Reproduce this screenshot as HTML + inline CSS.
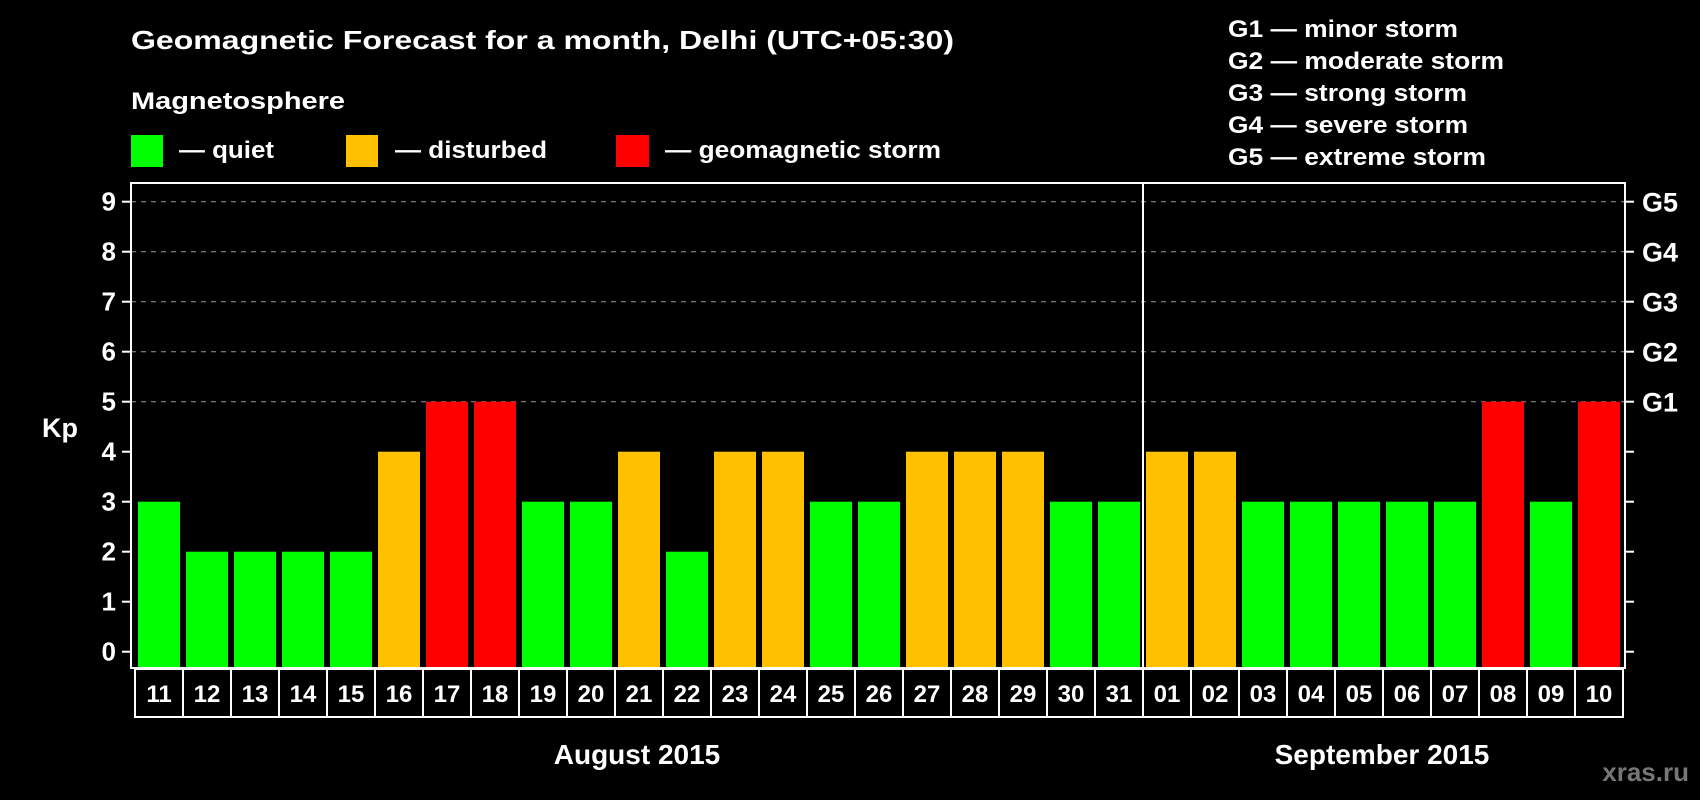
<!DOCTYPE html>
<html><head><meta charset="utf-8"><style>
html,body{margin:0;padding:0;background:#000;}
svg{display:block;font-family:"Liberation Sans",Arial,sans-serif;font-weight:bold;}
</style></head><body>
<svg id="chart" width="1700" height="800" viewBox="0 0 1700 800" xmlns="http://www.w3.org/2000/svg">
<rect width="1700" height="800" fill="#000"/>
<text x="131" y="49" fill="#fff" font-size="26" textLength="823" lengthAdjust="spacingAndGlyphs">Geomagnetic Forecast for a month, Delhi (UTC+05:30)</text>
<text x="131" y="109" fill="#fff" font-size="24" textLength="214" lengthAdjust="spacingAndGlyphs">Magnetosphere</text>
<g><rect x="131" y="135" width="32" height="32" fill="#00ff00"/><text x="179" y="158" fill="#fff" font-size="24" textLength="95" lengthAdjust="spacingAndGlyphs">— quiet</text></g>
<g><rect x="346" y="135" width="32" height="32" fill="#ffc000"/><text x="395" y="158" fill="#fff" font-size="24" textLength="152" lengthAdjust="spacingAndGlyphs">— disturbed</text></g>
<g><rect x="616" y="135" width="33" height="32" fill="#ff0000"/><text x="665" y="158" fill="#fff" font-size="24" textLength="276" lengthAdjust="spacingAndGlyphs">— geomagnetic storm</text></g>
<g fill="#fff" font-size="24">
<text x="1228" y="37" textLength="230" lengthAdjust="spacingAndGlyphs">G1 — minor storm</text>
<text x="1228" y="69" textLength="276" lengthAdjust="spacingAndGlyphs">G2 — moderate storm</text>
<text x="1228" y="101" textLength="239" lengthAdjust="spacingAndGlyphs">G3 — strong storm</text>
<text x="1228" y="133" textLength="240" lengthAdjust="spacingAndGlyphs">G4 — severe storm</text>
<text x="1228" y="165" textLength="258" lengthAdjust="spacingAndGlyphs">G5 — extreme storm</text>
</g>
<text x="42" y="437" fill="#fff" font-size="27">Kp</text>
<g id="grid"></g><g id="bars"></g><g id="axes"></g>
<text x="637" y="764" fill="#fff" font-size="28" text-anchor="middle">August 2015</text>
<text x="1382" y="764" fill="#fff" font-size="28" text-anchor="middle">September 2015</text>
<text x="1689" y="781" fill="#777" font-size="26" text-anchor="end">xras.ru</text>
</svg>
<script>
const days = ["11","12","13","14","15","16","17","18","19","20","21","22","23","24","25","26","27","28","29","30","31","01","02","03","04","05","06","07","08","09","10"];
const kpValues = [3,2,2,2,2,4,5,5,3,3,4,2,4,4,3,3,4,4,4,3,3,4,4,3,3,3,3,3,5,3,5];
const yTicks = [0,1,2,3,4,5,6,7,8,9];
const gLabels = ["G1","G2","G3","G4","G5"];
const gLevels = [5,6,7,8,9];
const monthBreakIndex = 21;

const NS = "http://www.w3.org/2000/svg";
const L = 131, R = 1625, T = 183, B = 668;
const y = v => 651.7 - 50 * v;
const cellX = i => 135 + 48 * i;
function mk(tag, attrs, parent) { const e = document.createElementNS(NS, tag); for (const k in attrs) e.setAttribute(k, attrs[k]); parent.appendChild(e); return e; }
const grid = document.getElementById("grid"), bars = document.getElementById("bars"), axes = document.getElementById("axes");
function color(v) { return v >= 5 ? "#ff0000" : v >= 4 ? "#ffc000" : "#00ff00"; }

gLevels.forEach((lv, i) => {
  const g = mk("line", {x1: L, x2: R, y1: y(lv), y2: y(lv), stroke: "#999", "stroke-width": 1, "stroke-dasharray": "5,5"}, grid);
  
  
  const t = mk("text", {x: 1642, y: y(lv) + 10, fill: "#fff", "font-size": 27}, axes);
  t.textContent = gLabels[i];
  
  
});

kpValues.forEach((v, i) => {
  const r = mk("rect", {x: cellX(i) + 3, y: y(v), width: 42, height: B - 1 - y(v), fill: color(v)}, bars);
  
  
  const c = mk("rect", {x: cellX(i), y: B + 1, width: 48, height: 48, fill: "none", stroke: "#fff", "stroke-width": 2}, axes);
  
  
  const t = mk("text", {x: cellX(i) + 24, y: B + 34, fill: "#fff", "font-size": 24, "text-anchor": "middle"}, axes);
  t.textContent = days[i];
  
  
});

yTicks.forEach(v => {
  const a = mk("line", {x1: 122, x2: L, y1: y(v), y2: y(v), stroke: "#fff", "stroke-width": 2}, axes);
  
  
  const b = mk("line", {x1: R, x2: 1634, y1: y(v), y2: y(v), stroke: "#fff", "stroke-width": 2}, axes);
  
  
  const t = mk("text", {x: 116, y: y(v) + 9, fill: "#fff", "font-size": 26, "text-anchor": "end"}, axes);
  t.textContent = v;
  
  
});

const frame = mk("rect", {x: L, y: T, width: R - L, height: B - T, fill: "none", stroke: "#fff", "stroke-width": 2}, axes);


const div = mk("line", {x1: cellX(monthBreakIndex), x2: cellX(monthBreakIndex), y1: T, y2: B, stroke: "#fff", "stroke-width": 2}, axes);


</script>
</body></html>
